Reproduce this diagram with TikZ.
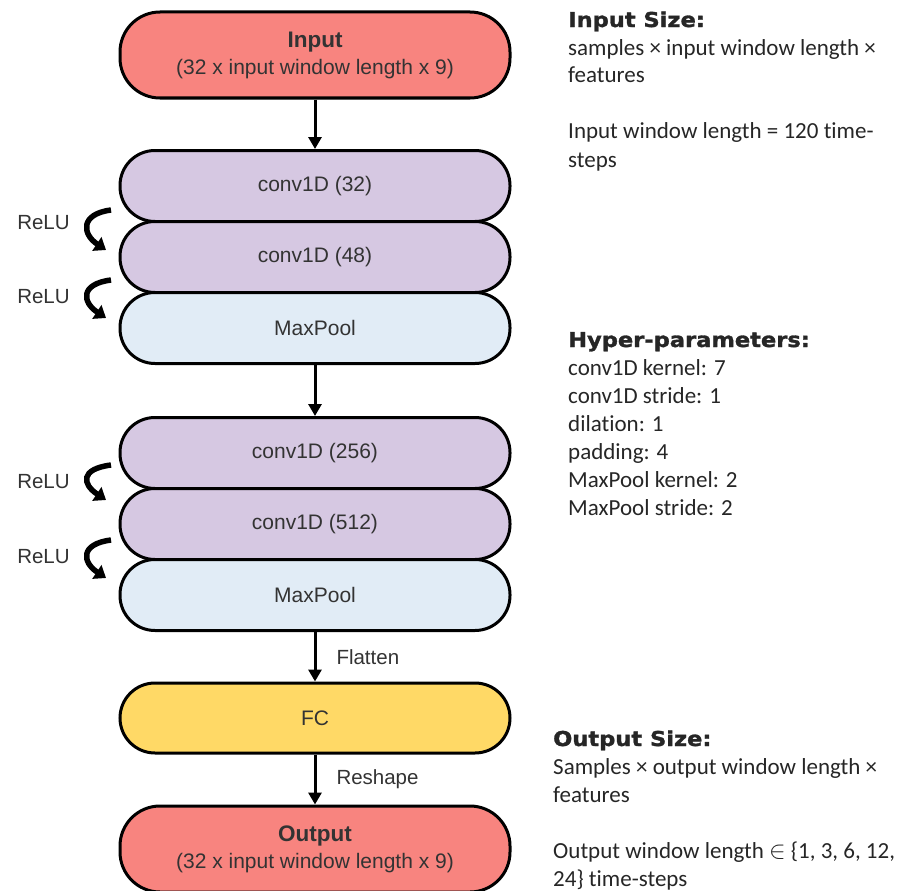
\documentclass[tikz,border=0pt]{standalone}
\usepackage{fontspec}
\setmainfont{Liberation Sans}
\newfontfamily\notefont{Carlito}[Ligatures=NoCommon]
\newfontfamily\headfont{DejaVu Sans}[BoldFeatures={FakeBold=1.5,FakeStretch=1.1}]
\usetikzlibrary{positioning,arrows.meta}
\definecolor{ioRed}{HTML}{F8847F}
\definecolor{convPurple}{HTML}{D6C8E2}
\definecolor{poolBlue}{HTML}{E1ECF6}
\definecolor{fcYellow}{HTML}{FFD966}

\begin{document}
\begin{tikzpicture}[x=1pt,y=1pt,
  layer/.style={draw=black,line width=3pt,rounded corners=35pt,minimum width=390pt,minimum height=71pt,inner sep=0pt,text=black!80,font=\fontsize{21}{27}\selectfont,align=center},
  io/.style={layer,fill=ioRed,minimum height=86pt,rounded corners=40pt},
  conv/.style={layer,fill=convPurple},
  pool/.style={layer,fill=poolBlue},
  flow/.style={line width=3pt,-{Triangle[width=13pt,length=12pt]}},
  relu/.style={line width=5.5pt,-{Triangle[width=16pt,length=11pt]}},
  relulabel/.style={inner sep=0pt,text=black!80,font=\fontsize{20.5}{24}\selectfont},
  steplabel/.style={anchor=west,inner sep=0pt,xshift=20pt,text=black!80,font=\fontsize{20.5}{24}\selectfont},
  note/.style={anchor=base west,align=left,inner sep=0pt,text=black!85,font=\notefont\fontsize{23}{28}\selectfont}]
\path[use as bounding box] (0,0) rectangle (900,-891);

\node[io] (in) at (315,-55) {{\bfseries\fontsize{22.5}{27}\selectfont Input}\\(32 x input window length x 9)};
\node[conv] (c1) at (315,-186) {conv1D (32)};
\node[conv,below=-3pt of c1] (c2) {conv1D (48)};
\node[pool,below=-3pt of c2] (p1) {MaxPool};
\node[conv] (c3) at (315,-453) {conv1D (256)};
\node[conv,below=-3pt of c3] (c4) {conv1D (512)};
\node[pool,below=-3pt of c4] (p2) {MaxPool};
\node[layer,fill=fcYellow,minimum height=70pt] (fc) at (315,-718) {FC};
\node[io] (out) at (315,-849) {{\bfseries\fontsize{22.5}{27}\selectfont Output}\\(32 x input window length x 9)};

\draw[flow] (in) -- (c1);
\draw[flow] (p1) -- (c3);
\draw[flow] (p2) -- node[steplabel] {Flatten} (fc);
\draw[flow] (fc) -- node[steplabel] {Reshape} (out);

\foreach \ty/\at/\ab in {223/210/250, 297/280/318, 482/465/500, 557/540/578}{
  \node[relulabel] (relu\ty) at (43.5,-\ty) {ReLU};
  \draw[relu] (111,-\at) .. controls (80,-\at-4) and (82,-\ab+16) .. (106,-\ab);
}

% the notes are anchored at the baseline of their last line
\node[note] (insize) at (568,-167) {{\headfont\bfseries\fontsize{20.5}{28}\selectfont Input Size:}\\samples × input window length ×\\features\\[28pt]Input window length = 120 time-\\steps};
\node[note] (hyper) at (568,-515) {{\headfont\bfseries\fontsize{20.5}{28}\selectfont Hyper-parameters:}\\conv1D kernel: 7\\conv1D stride: 1\\dilation: 1\\padding: 4\\MaxPool kernel: 2\\MaxPool stride: 2};
\node[note] (outsize) at (553,-886) {{\headfont\bfseries\fontsize{20.5}{28}\selectfont Output Size:}\\Samples × output window length ×\\features\\[28pt]Output window length $\in$ \{1, 3, 6, 12,\\24\} time-steps};
\end{tikzpicture}
\end{document}
